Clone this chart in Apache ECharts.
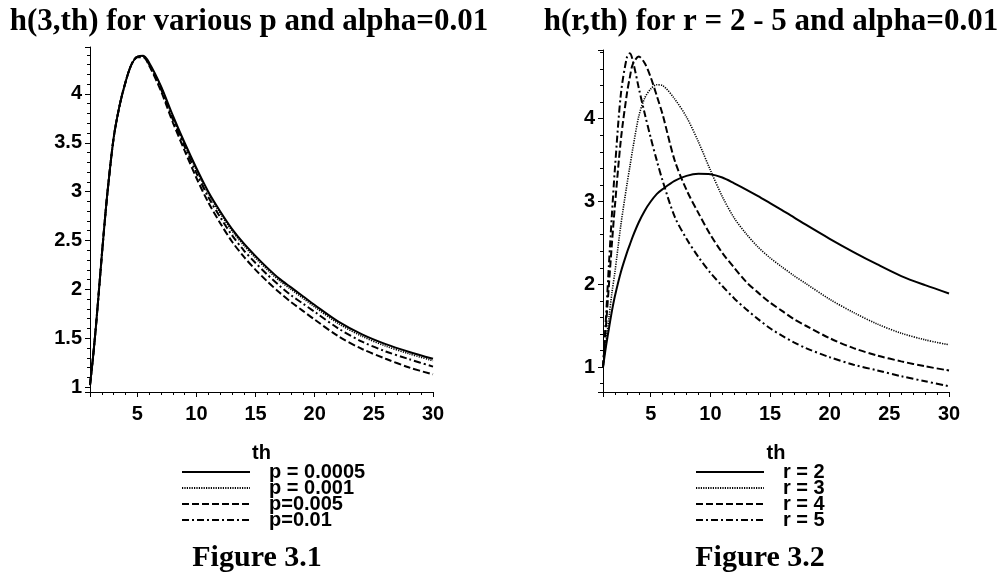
<!DOCTYPE html>
<html>
<head>
<meta charset="utf-8">
<script src="https://cdn.jsdelivr.net/npm/echarts@6/dist/echarts.min.js"></script>
<style>
  html, body { margin: 0; padding: 0; background: #fff; }
  #chart { width: 1007px; height: 576px; }
</style>
</head>
<body>
<div id="chart"></div>
<script>
// values
const thLeft = [1, 1.25, 1.5, 1.75, 2, 2.25, 2.5, 3, 3.5, 4, 4.5, 5, 5.5, 6, 7, 8, 9, 10, 11, 12, 13, 14, 15, 16, 17, 18, 19, 20, 22, 24, 26, 28, 30];
const hP0005 = [1.02, 1.3, 1.62, 1.98, 2.35, 2.7, 3.02, 3.55, 3.88, 4.12, 4.3, 4.38, 4.39, 4.32, 4.08, 3.78, 3.5, 3.24, 3.0, 2.8, 2.62, 2.47, 2.34, 2.22, 2.11, 2.02, 1.93, 1.84, 1.67, 1.54, 1.44, 1.36, 1.29];
const hP001 = [1.02, 1.3, 1.62, 1.98, 2.35, 2.7, 3.02, 3.55, 3.88, 4.12, 4.3, 4.38, 4.385, 4.31, 4.07, 3.76, 3.48, 3.22, 2.98, 2.78, 2.6, 2.45, 2.32, 2.2, 2.09, 2.0, 1.91, 1.82, 1.65, 1.52, 1.42, 1.34, 1.27];
const hP005 = [1.02, 1.3, 1.62, 1.98, 2.35, 2.7, 3.02, 3.55, 3.88, 4.12, 4.3, 4.375, 4.375, 4.29, 4.03, 3.71, 3.42, 3.14, 2.89, 2.68, 2.49, 2.335, 2.2, 2.08, 1.97, 1.87, 1.78, 1.69, 1.52, 1.39, 1.29, 1.2, 1.13];
const hP01 = [1.02, 1.3, 1.62, 1.98, 2.35, 2.7, 3.02, 3.55, 3.88, 4.12, 4.3, 4.38, 4.38, 4.3, 4.05, 3.74, 3.46, 3.19, 2.945, 2.74, 2.555, 2.4, 2.27, 2.15, 2.04, 1.94, 1.855, 1.77, 1.6, 1.465, 1.365, 1.285, 1.21];

const thRight = [1, 1.25, 1.5, 1.75, 2, 2.5, 3, 3.25, 3.5, 4, 4.5, 5, 5.5, 6, 7, 8, 9, 10, 11, 12, 13, 14, 15, 16, 17, 18, 20, 22, 24, 26, 28, 30];
const hR2 = [1.0, 1.25, 1.47, 1.68, 1.86, 2.15, 2.38, 2.48, 2.58, 2.75, 2.89, 3.0, 3.09, 3.15, 3.25, 3.31, 3.335, 3.33, 3.29, 3.22, 3.145, 3.065, 2.98, 2.895, 2.81, 2.72, 2.55, 2.39, 2.24, 2.1, 1.99, 1.89];
const hR3 = [1.0, 1.3, 1.6, 1.9, 2.15, 2.72, 3.2, 3.42, 3.64, 4.03, 4.25, 4.36, 4.41, 4.4, 4.24, 4.02, 3.72, 3.38, 3.06, 2.8, 2.61, 2.45, 2.32, 2.21, 2.105, 2.01, 1.82, 1.66, 1.52, 1.41, 1.33, 1.27];
const hR4 = [1.0, 1.5, 2.0, 2.5, 2.95, 3.75, 4.3, 4.5, 4.66, 4.75, 4.67, 4.5, 4.28, 4.05, 3.5, 3.14, 2.86, 2.6, 2.38, 2.2, 2.03, 1.9, 1.78, 1.68, 1.58, 1.5, 1.35, 1.23, 1.14, 1.07, 1.01, 0.96];
const hR5 = [1.0, 1.6, 2.25, 2.85, 3.4, 4.3, 4.74, 4.79, 4.7, 4.37, 4.06, 3.77, 3.5, 3.25, 2.82, 2.55, 2.33, 2.14, 1.98, 1.83, 1.7, 1.58, 1.47, 1.38, 1.3, 1.23, 1.12, 1.03, 0.96, 0.89, 0.83, 0.77];

const leftNames = ['p = 0.0005', 'p = 0.001', 'p=0.005', 'p=0.01'];
const rightNames = ['r = 2', 'r = 3', 'r = 4', 'r = 5'];

const SANS = '"Liberation Sans", Arial, sans-serif';
const SERIF = '"Liberation Serif", "Times New Roman", serif';

const dashTypes = ['solid', [1.2, 1.2], [7, 3], [7, 3, 2, 3]];
const dashWidths = [2, 1.6, 2, 2];

const pairs = (xs, ys) => xs.map((x, i) => [x, ys[i]]);

function axisX(gridIndex) {
  return {
    type: 'value', gridIndex: gridIndex, min: 1, max: 30, splitNumber: 6,
    name: 'th', nameLocation: 'middle', nameGap: 51,
    nameTextStyle: { color: '#000', fontSize: 20, fontWeight: 'bold', fontFamily: SANS },
    axisLine: { lineStyle: { color: '#000', width: 1 } },
    axisTick: { length: 5, lineStyle: { color: '#000' } },
    minorTick: { show: true, splitNumber: 5, length: 3, lineStyle: { color: '#000' } },
    splitLine: { show: false },
    axisLabel: { color: '#000', fontSize: 20, fontWeight: 'bold', fontFamily: SANS, margin: 12, showMinLabel: false, showMaxLabel: true }
  };
}

function axisY(gridIndex, min, max, split) {
  return {
    type: 'value', gridIndex: gridIndex, min: min, max: max, splitNumber: split,
    axisLine: { show: true, lineStyle: { color: '#000', width: 1 } },
    axisTick: { show: true, length: 5, lineStyle: { color: '#000' } },
    minorTick: { show: true, splitNumber: 5, length: 3, lineStyle: { color: '#000' } },
    splitLine: { show: false },
    axisLabel: { color: '#000', fontSize: 20, fontWeight: 'bold', fontFamily: SANS, margin: 8, showMinLabel: false, showMaxLabel: false }
  };
}

function legendBox(names, left) {
  return {
    data: names, orient: 'vertical', left: left, top: 462, padding: 0,
    itemWidth: 68, itemHeight: 12, itemGap: -4, selectedMode: false,
    itemStyle: { opacity: 0 },
    textStyle: { color: '#000', fontSize: 20, fontWeight: 'bold', fontFamily: SANS, lineHeight: 12, padding: [0, 0, 0, 14] }
  };
}

const leftData = [hP0005, hP001, hP005, hP01];
const rightData = [hR2, hR3, hR4, hR5];

const series = [];
leftData.forEach((ys, i) => {
  series.push({
    name: leftNames[i], type: 'line', xAxisIndex: 0, yAxisIndex: 0,
    data: pairs(thLeft, ys), smooth: 0.3, symbol: 'none',
    lineStyle: { color: '#000', width: dashWidths[i], type: dashTypes[i] },
    itemStyle: { color: '#000' }
  });
});
rightData.forEach((ys, i) => {
  series.push({
    name: rightNames[i], type: 'line', xAxisIndex: 1, yAxisIndex: 1,
    data: pairs(thRight, ys), smooth: 0.3, symbol: 'none',
    lineStyle: { color: '#000', width: dashWidths[i], type: dashTypes[i] },
    itemStyle: { color: '#000' }
  });
});

const chart = echarts.init(document.getElementById('chart'));
chart.setOption({
  backgroundColor: '#fff',
  animation: false,
  title: [
    { text: 'h(3,th) for various p and alpha=0.01', left: 244, top: 1, textAlign: 'center',
      textStyle: { color: '#000', fontSize: 31, fontWeight: 'bold', fontFamily: SERIF } },
    { text: 'h(r,th) for r = 2 - 5 and alpha=0.01', left: 766, top: 1, textAlign: 'center',
      textStyle: { color: '#000', fontSize: 31, fontWeight: 'bold', fontFamily: SERIF } }
  ],
  legend: [legendBox(leftNames, 181), legendBox(rightNames, 695)],
  grid: [
    { left: 90, top: 47, width: 343, height: 345 },
    { left: 603, top: 50, width: 346, height: 342 }
  ],
  xAxis: [axisX(0), axisX(1)],
  yAxis: [axisY(0, 0.95, 4.48, 7), axisY(1, 0.7, 4.83, 4)],
  series: series,
  graphic: [
    { type: 'text', x: 257, y: 558, style: { text: 'Figure 3.1', fill: '#000', font: 'bold 30px ' + SERIF, textAlign: 'center', textVerticalAlign: 'middle' } },
    { type: 'text', x: 760, y: 558, style: { text: 'Figure 3.2', fill: '#000', font: 'bold 30px ' + SERIF, textAlign: 'center', textVerticalAlign: 'middle' } }
  ]
});
window.addEventListener('resize', function () { chart.resize(); });
</script>
</body>
</html>
